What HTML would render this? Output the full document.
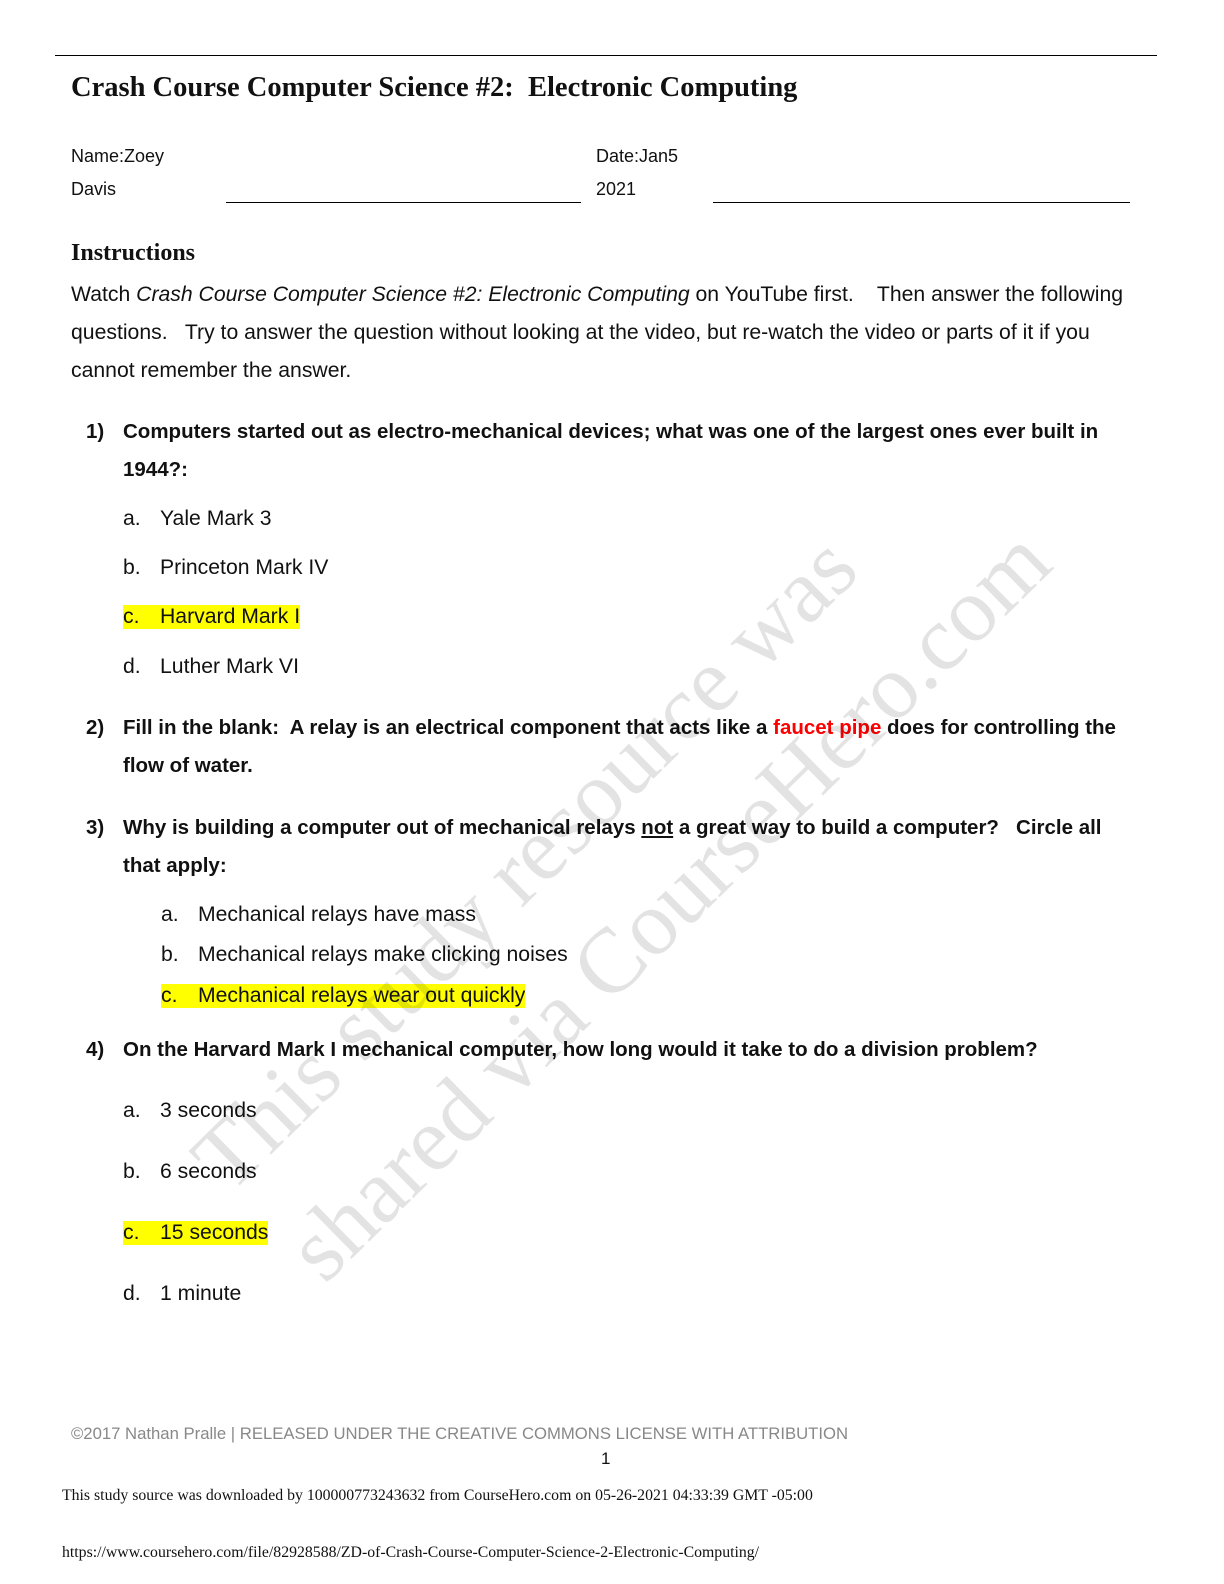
<!DOCTYPE html>
<html><head><meta charset="utf-8"><style>
body{margin:0;width:1224px;height:1584px;position:relative;background:#fff;font-family:"Liberation Sans",sans-serif;color:#111;overflow:hidden}
.a{position:absolute;white-space:nowrap}
.t{font-size:21.2px}
.t span.l{display:inline-block;width:37px}
.b{font-weight:bold;font-size:20.5px}
.hl{background:#ffff00}
.wm{position:absolute;font-family:"Liberation Serif",serif;font-size:92px;color:rgba(0,0,0,0.11);white-space:nowrap;transform-origin:left bottom;transform:rotate(-44.5deg)}
</style></head><body>
<div class="a" style="left:55px;top:55px;width:1102px;border-top:1.5px solid #000"></div>
<div class="a" style="left:71px;top:72px;font-family:'Liberation Serif',serif;font-weight:bold;font-size:28.5px">Crash Course Computer Science #2:&nbsp; Electronic Computing</div>
<div class="a" style="left:71px;top:146px;font-size:18px">Name:Zoey</div>
<div class="a" style="left:71px;top:179px;font-size:18px">Davis</div>
<div class="a" style="left:226px;top:202px;width:355px;border-top:1px solid #000"></div>
<div class="a" style="left:596px;top:146px;font-size:18px">Date:Jan5</div>
<div class="a" style="left:596px;top:179px;font-size:18px">2021</div>
<div class="a" style="left:713px;top:202px;width:417px;border-top:1px solid #000"></div>
<div class="a" style="left:71px;top:240px;font-family:'Liberation Serif',serif;font-weight:bold;font-size:24px">Instructions</div>
<div class="a t" style="left:71px;top:283px">Watch <i>Crash Course Computer Science #2: Electronic Computing</i> on YouTube first.&nbsp;&nbsp;&nbsp; Then answer the following</div>
<div class="a t" style="left:71px;top:321px">questions.&nbsp;&nbsp; Try to answer the question without looking at the video, but re-watch the video or parts of it if you</div>
<div class="a t" style="left:71px;top:359px">cannot remember the answer.</div>

<div class="a b" style="left:86px;top:420px">1)</div>
<div class="a b" style="left:123px;top:420px">Computers started out as electro-mechanical devices; what was one of the largest ones ever built in</div>
<div class="a b" style="left:123px;top:458px">1944?:</div>
<div class="a t" style="left:123px;top:507px"><span class="l">a.</span>Yale Mark 3</div>
<div class="a t" style="left:123px;top:556px"><span class="l">b.</span>Princeton Mark IV</div>
<div class="a t hl" style="left:123px;top:605px"><span class="l">c.</span>Harvard Mark I</div>
<div class="a t" style="left:123px;top:655px"><span class="l">d.</span>Luther Mark VI</div>

<div class="a b" style="left:86px;top:716px">2)</div>
<div class="a b" style="left:123px;top:716px">Fill in the blank:&nbsp; A relay is an electrical component that acts like a <span style="color:#f00">faucet pipe</span> does for controlling the</div>
<div class="a b" style="left:123px;top:754px">flow of water.</div>

<div class="a b" style="left:86px;top:816px">3)</div>
<div class="a b" style="left:123px;top:816px">Why is building a computer out of mechanical relays <u>not</u> a great way to build a computer?&nbsp;&nbsp; Circle all</div>
<div class="a b" style="left:123px;top:854px">that apply:</div>
<div class="a t" style="left:161px;top:903px"><span class="l">a.</span>Mechanical relays have mass</div>
<div class="a t" style="left:161px;top:943px"><span class="l">b.</span>Mechanical relays make clicking noises</div>
<div class="a t hl" style="left:161px;top:984px"><span class="l">c.</span>Mechanical relays wear out quickly</div>

<div class="a b" style="left:86px;top:1038px">4)</div>
<div class="a b" style="left:123px;top:1038px">On the Harvard Mark I mechanical computer, how long would it take to do a division problem?</div>
<div class="a t" style="left:123px;top:1099px"><span class="l">a.</span>3 seconds</div>
<div class="a t" style="left:123px;top:1160px"><span class="l">b.</span>6 seconds</div>
<div class="a t hl" style="left:123px;top:1221px"><span class="l">c.</span>15 seconds</div>
<div class="a t" style="left:123px;top:1282px"><span class="l">d.</span>1 minute</div>

<div class="wm" style="left:245px;top:1105px">This study resource was</div>
<div class="wm" style="left:340px;top:1195px">shared via CourseHero.com</div>

<div class="a" style="left:71px;top:1424px;font-size:16.7px;color:#888">©2017 Nathan Pralle | RELEASED UNDER THE CREATIVE COMMONS LICENSE WITH ATTRIBUTION</div>
<div class="a" style="left:601px;top:1449px;font-size:17px">1</div>
<div class="a" style="left:62px;top:1487px;font-family:'Liberation Serif',serif;font-size:15.8px">This study source was downloaded by 100000773243632 from CourseHero.com on 05-26-2021 04:33:39 GMT -05:00</div>
<div class="a" style="left:62px;top:1544px;font-family:'Liberation Serif',serif;font-size:15.8px">https://www.coursehero.com/file/82928588/ZD-of-Crash-Course-Computer-Science-2-Electronic-Computing/</div>
</body></html>
